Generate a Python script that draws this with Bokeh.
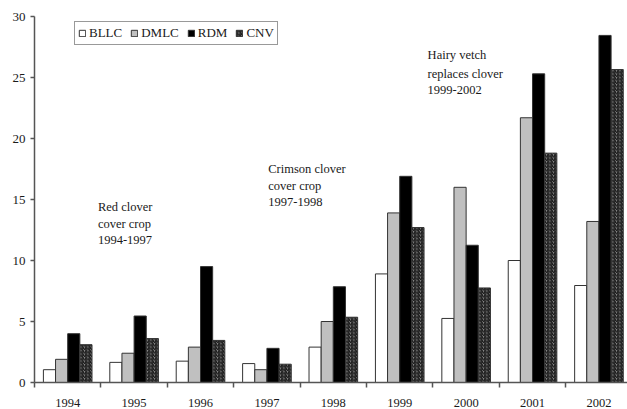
from bokeh.plotting import figure
from bokeh.models import Range1d, FixedTicker, Legend, LegendItem, Label, ColumnDataSource
from bokeh.transform import dodge
from bokeh.embed import file_html
from bokeh.resources import INLINE

# Yearly values per treatment
years = ["1994", "1995", "1996", "1997", "1998", "1999", "2000", "2001", "2002"]
bllc = [1.05, 1.65, 1.75, 1.55, 2.9, 8.9, 5.25, 10.0, 7.95]
dmlc = [1.9, 2.4, 2.9, 1.05, 5.0, 13.9, 16.0, 21.7, 13.2]
rdm = [4.0, 5.45, 9.5, 2.8, 7.85, 16.9, 11.25, 25.3, 28.45]
cnv = [3.1, 3.6, 3.45, 1.5, 5.35, 12.7, 7.75, 18.8, 25.65]
series_names = ["BLLC", "DMLC", "RDM", "CNV"]
y_ticks = [0, 5, 10, 15, 20, 25, 30]

FONT = "'Liberation Serif', 'Times New Roman', serif"
TXT = "#1a1a1a"

centers = [i + 0.5 for i in range(len(years))]
src = ColumnDataSource(dict(x=centers, BLLC=bllc, DMLC=dmlc, RDM=rdm, CNV=cnv))

p = figure(width=627, height=409, output_backend="svg", toolbar_location=None,
           x_range=Range1d(0, 8.93), y_range=Range1d(0, 30),
           min_border_left=34, min_border_right=0, min_border_top=16, min_border_bottom=26)
p.outline_line_color = None
p.xgrid.visible = False
p.ygrid.visible = False
p.background_fill_color = "white"
p.border_fill_color = "white"

bar_w = 0.183
offsets = [-0.2745, -0.0915, 0.0915, 0.2745]
styles = [
    dict(fill_color="white"),
    dict(fill_color="#c0c0c0"),
    dict(fill_color="black"),
    dict(fill_color="#8c8c8c", hatch_pattern="/", hatch_color="#1a1a1a",
         hatch_scale=3.5, hatch_weight=1.4),
]
renderers = []
for name, off, st in zip(series_names, offsets, styles):
    r = p.vbar(x=dodge("x", off, range=p.x_range), top=name, width=bar_w, bottom=0,
               source=src, line_color="#333333", line_width=1, **st)
    renderers.append(r)

# x axis: boundaries as minor ticks, year labels at group centres
xa = p.xaxis[0]
xa.ticker = FixedTicker(ticks=centers, minor_ticks=list(range(len(years) + 1)))
xa.major_label_overrides = {c: y for c, y in zip(centers, years)}
xa.major_tick_out = 0
xa.major_tick_in = 0
xa.minor_tick_out = 5
xa.minor_tick_in = 0
xa.minor_tick_line_color = "#555555"
xa.minor_tick_line_width = 1.5
xa.axis_line_color = "#555555"
xa.axis_line_width = 1.5
xa.major_label_standoff = 11
xa.major_label_text_font = FONT
xa.major_label_text_font_size = "12.5px"
xa.major_label_text_color = TXT

ya = p.yaxis[0]
ya.ticker = FixedTicker(ticks=y_ticks)
ya.minor_tick_line_color = None
ya.major_tick_out = 4
ya.major_tick_in = 0
ya.major_tick_line_color = "#555555"
ya.major_tick_line_width = 1.5
ya.axis_line_color = "#555555"
ya.axis_line_width = 1.5
ya.major_label_standoff = 5
ya.major_label_text_font = FONT
ya.major_label_text_font_size = "13px"
ya.major_label_text_color = TXT

legend = Legend(items=[LegendItem(label=n, renderers=[r]) for n, r in zip(series_names, renderers)],
                orientation="horizontal", location=(40, 337),
                glyph_width=8, glyph_height=8, label_standoff=3, spacing=8,
                padding=3, margin=0,
                label_text_font=FONT, label_text_font_size="13px", label_text_color=TXT,
                label_height=13,
                border_line_color="#333333", border_line_width=1.5,
                background_fill_color="white", background_fill_alpha=1)
p.add_layout(legend, "center")

# Cover-crop notes
notes = [
    (0.955, [14.4, 13.0, 11.67], ["Red clover", "cover crop", "1994-1997"]),
    (3.52, [17.49, 16.12, 14.81], ["Crimson clover", "cover crop", "1997-1998"]),
    (5.92, [26.82, 25.32, 23.95], ["Hairy  vetch", "replaces clover", "1999-2002"]),
]
for x, ys, lines in notes:
    for y, t in zip(ys, lines):
        p.add_layout(Label(x=x, y=y, text=t, text_font=FONT, text_font_size="12.5px",
                           text_color=TXT, text_baseline="middle", text_align="left"))

open("out.html", "w").write(file_html(p, INLINE))
